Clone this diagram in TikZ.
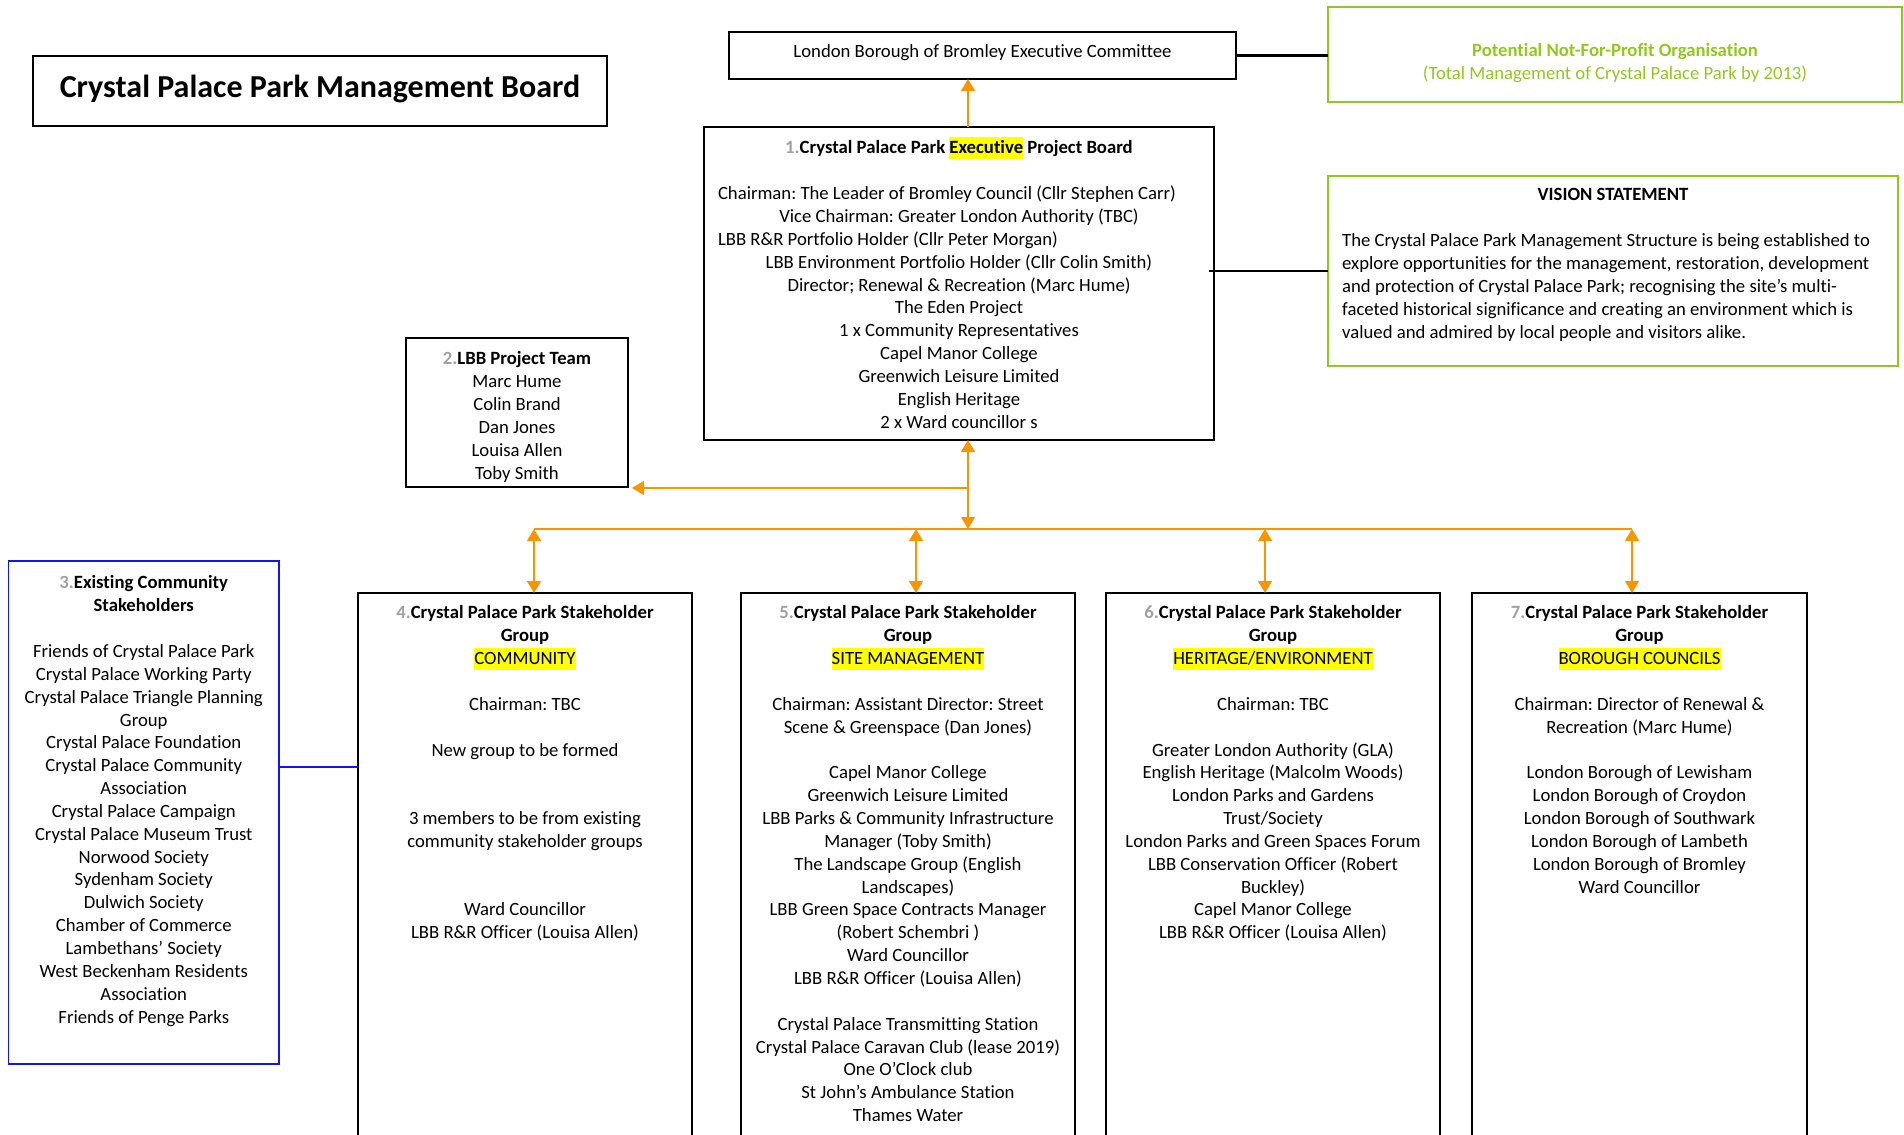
\documentclass[tikz,border=0pt]{standalone}
\usepackage{fontspec}
\setmainfont{Carlito}[Ligatures={NoCommon}]
\usetikzlibrary{arrows.meta}
\definecolor{ornge}{RGB}{247,150,0}
\definecolor{lgreen}{RGB}{146,200,30}
\definecolor{numgrey}{RGB}{160,160,160}
\definecolor{bblue}{RGB}{20,20,240}
\definecolor{hly}{RGB}{255,255,0}
\newcommand\hlt[1]{{\setlength\fboxsep{0pt}\colorbox{hly}{\rule[-5.5pt]{0pt}{22pt}#1}}}
\newcommand\num[1]{\textcolor{numgrey}{#1}}
\newcommand\tp{\rule{0pt}{17pt}}
\newlength\LS \setlength\LS{22.85pt}
\frenchspacing
\begin{document}
\begin{tikzpicture}[x=1pt,y=-1pt,
  bx/.style={draw=black, line width=1.6pt, inner sep=0pt, outer sep=0pt},
  gbx/.style={draw=lgreen, line width=1.6pt, inner sep=0pt, outer sep=0pt},
  blbx/.style={draw=bblue, line width=1.5pt, inner sep=0pt, outer sep=0pt},
  txt/.style={inner sep=0pt, align=center, font=\fontsize{18.7}{22.85}\selectfont\frenchspacing, anchor=north},
  oline/.style={draw=ornge, line width=1.6pt},
  oarr/.style={oline, -{Triangle[length=12pt,width=14pt]}},
  oarr2/.style={oline, {Triangle[length=12pt,width=14pt]}-{Triangle[length=12pt,width=14pt]}},
]
\useasboundingbox (0,0) rectangle (1904,1135);

% boxes
\node[bx, minimum width=574pt, minimum height=70pt] (tb) at (320,91) {};
\node[bx, minimum width=507pt, minimum height=47pt] (bec) at (982.5,55.5) {};
\node[gbx, minimum width=574pt, minimum height=95pt] (nfp) at (1615,54.5) {};
\node[bx, minimum width=510pt, minimum height=313pt] (b1) at (959,283.5) {};
\node[gbx, minimum width=570pt, minimum height=190pt] (vis) at (1613,271) {};
\node[bx, minimum width=222pt, minimum height=149pt] (b2) at (517,412.5) {};
\node[blbx, minimum width=270.5pt, minimum height=503pt] (b3) at (143.75,812.5) {};
\node[bx, minimum width=334pt, minimum height=552pt] (b4) at (525,869) {};
\node[bx, minimum width=334pt, minimum height=552pt] (b5) at (908,869) {};
\node[bx, minimum width=334pt, minimum height=552pt] (b6) at (1273,869) {};
\node[bx, minimum width=335pt, minimum height=552pt] (b7) at (1639.5,869) {};

% texts
\node[inner sep=0pt, anchor=base, font=\fontsize{32}{38}\selectfont\bfseries] (tbt) at (320,97) {Crystal Palace Park Management Board};
\node[txt] (bect) at (982.5,40.7) {\tp London Borough of Bromley Executive Committee};
\node[txt, text=lgreen] (nfpt) at (1615,39.7) {\tp\textbf{Potential Not-For-Profit Organisation}\\(Total Management of Crystal Palace Park by 2013)};
\node[txt] (b1t) at (959,136.7) {\tp\textbf{\num{1.}Crystal Palace Park \hlt{Executive} Project Board}\\[\LS]
\makebox[482pt][l]{Chairman: The Leader of Bromley Council (Cllr Stephen Carr)}\\
Vice Chairman: Greater London Authority (TBC)\\
\makebox[482pt][l]{LBB R\&R Portfolio Holder (Cllr Peter Morgan)}\\
LBB Environment Portfolio Holder (Cllr Colin Smith)\\
Director; Renewal \& Recreation (Marc Hume)\\
The Eden Project\\
1 x Community Representatives\\
Capel Manor College\\
Greenwich Leisure Limited\\
English Heritage\\
2 x Ward councillor s};
\node[txt] (vist) at (1613,183.7) {\tp\textbf{VISION STATEMENT}};
\node[txt, anchor=north west, align=left] (visb) at (1342,229.7) {\tp The Crystal Palace Park Management Structure is being established to\\
explore opportunities for the management, restoration, development\\
and protection of Crystal Palace Park; recognising the site’s multi-\\
faceted historical significance and creating an environment which is\\
valued and admired by local people and visitors alike.};
\node[txt] (b2t) at (517,347.7) {\tp\textbf{\num{2.}LBB Project Team}\\Marc Hume\\Colin Brand\\Dan Jones\\Louisa Allen\\Toby Smith};
\node[txt] (b3t) at (143.75,571.7) {\tp\textbf{\num{3.}Existing Community}\\\textbf{Stakeholders}\\[\LS]
Friends of Crystal Palace Park\\
Crystal Palace Working Party\\
Crystal Palace Triangle Planning\\
Group\\
Crystal Palace Foundation\\
Crystal Palace Community\\
Association\\
Crystal Palace Campaign\\
Crystal Palace Museum Trust\\
Norwood Society\\
Sydenham Society\\
Dulwich Society\\
Chamber of Commerce\\
Lambethans’ Society\\
West Beckenham Residents\\
Association\\
Friends of Penge Parks};
\node[txt] (b4t) at (525,601.7) {\tp\textbf{\num{4.}Crystal Palace Park Stakeholder}\\\textbf{Group}\\\hlt{COMMUNITY}\\[\LS]
Chairman: TBC\\[\LS]
New group to be formed\\[2\LS]
3 members to be from existing\\
community stakeholder groups\\[2\LS]
Ward Councillor\\
LBB R\&R Officer (Louisa Allen)};
\node[txt] (b5t) at (908,601.7) {\tp\textbf{\num{5.}Crystal Palace Park Stakeholder}\\\textbf{Group}\\\hlt{SITE MANAGEMENT}\\[\LS]
Chairman: Assistant Director: Street\\
Scene \& Greenspace (Dan Jones)\\[\LS]
Capel Manor College\\
Greenwich Leisure Limited\\
LBB Parks \& Community Infrastructure\\
Manager (Toby Smith)\\
The Landscape Group (English\\
Landscapes)\\
LBB Green Space Contracts Manager\\
(Robert Schembri )\\
Ward Councillor\\
LBB R\&R Officer (Louisa Allen)\\[\LS]
Crystal Palace Transmitting Station\\
Crystal Palace Caravan Club (lease 2019)\\
One O’Clock club\\
St John’s Ambulance Station\\
Thames Water};
\node[txt] (b6t) at (1273,601.7) {\tp\textbf{\num{6.}Crystal Palace Park Stakeholder}\\\textbf{Group}\\\hlt{HERITAGE/ENVIRONMENT}\\[\LS]
Chairman: TBC\\[\LS]
Greater London Authority (GLA)\\
English Heritage (Malcolm Woods)\\
London Parks and Gardens\\
Trust/Society\\
London Parks and Green Spaces Forum\\
LBB Conservation Officer (Robert\\
Buckley)\\
Capel Manor College\\
LBB R\&R Officer (Louisa Allen)};
\node[txt] (b7t) at (1639.5,601.7) {\tp\textbf{\num{7.}Crystal Palace Park Stakeholder}\\\textbf{Group}\\\hlt{BOROUGH COUNCILS}\\[\LS]
Chairman: Director of Renewal \&\\
Recreation (Marc Hume)\\[\LS]
London Borough of Lewisham\\
London Borough of Croydon\\
London Borough of Southwark\\
London Borough of Lambeth\\
London Borough of Bromley\\
Ward Councillor};

% helper coordinates
\coordinate (xa) at (968,0);
\coordinate (j2) at (968,488);
\coordinate (bus) at (968,529);
\coordinate (x4) at (534,0);
\coordinate (x5) at (916,0);
\coordinate (x6) at (1265,0);
\coordinate (x7) at (1632,0);
\coordinate (yb) at (0,767);

% connectors
\draw[oarr] (b1.north -| xa) -- (bec.south -| xa);
\draw[oarr2] (b1.south -| xa) -- (bus);
\draw[oarr] (j2) -- ([xshift=4pt]b2.east |- j2);
\draw[oline] (bus -| x4) -- (bus -| x7);
\foreach \k in {4,5,6,7} \draw[oarr2] (bus -| x\k) -- (b\k.north -| x\k);
\draw[line width=2.4pt] (bec.east) -- (nfp.west |- bec.east);
\draw[line width=1.8pt] ([xshift=-5pt]b1.east |- vis.west) -- (vis.west);
\draw[draw=bblue, line width=1.2pt] (b3.east |- yb) -- (b4.west |- yb);
\end{tikzpicture}
\end{document}
